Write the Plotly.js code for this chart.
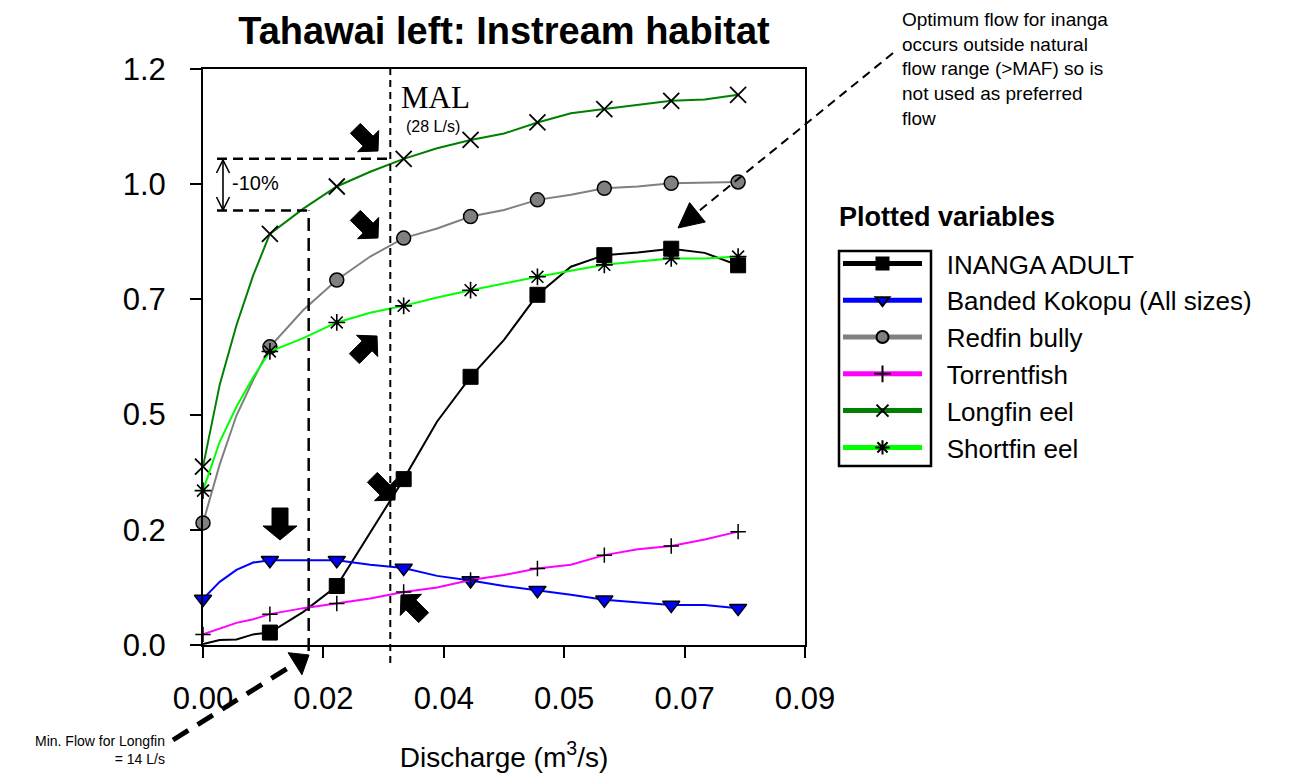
<!DOCTYPE html>
<html><head><meta charset="utf-8">
<script src="https://cdn.plot.ly/plotly-3.0.1.min.js"></script>
<style>html,body{margin:0;padding:0;background:#fff;} #chart{width:1290px;height:780px;}</style>
</head><body><div id="chart"></div>
<script>
// ---- data ----
const flow = [0, 0.0025, 0.005, 0.0075, 0.01, 0.015, 0.02, 0.025, 0.03, 0.035, 0.04, 0.045, 0.05, 0.055, 0.06, 0.065, 0.07, 0.075, 0.08];
const inangaAdult  = [0.002, 0.011, 0.012, 0.023, 0.027, 0.072, 0.128, 0.243, 0.360, 0.485, 0.582, 0.662, 0.760, 0.821, 0.846, 0.852, 0.860, 0.851, 0.824];
const bandedKokopu = [0.100, 0.137, 0.163, 0.179, 0.184, 0.184, 0.184, 0.174, 0.167, 0.150, 0.140, 0.128, 0.119, 0.109, 0.098, 0.092, 0.087, 0.087, 0.080];
const redfinBully  = [0.265, 0.392, 0.498, 0.575, 0.647, 0.727, 0.792, 0.843, 0.883, 0.904, 0.930, 0.944, 0.966, 0.977, 0.991, 0.995, 1.002, 1.003, 1.005];
const torrentfish  = [0.023, 0.035, 0.048, 0.056, 0.067, 0.080, 0.090, 0.101, 0.115, 0.125, 0.141, 0.152, 0.166, 0.174, 0.195, 0.208, 0.215, 0.229, 0.246];
const longfinEel   = [0.387, 0.565, 0.694, 0.802, 0.892, 0.947, 0.995, 1.027, 1.055, 1.078, 1.096, 1.110, 1.134, 1.154, 1.163, 1.172, 1.181, 1.184, 1.194];
const shortfinEel  = [0.335, 0.441, 0.517, 0.581, 0.637, 0.666, 0.700, 0.721, 0.736, 0.754, 0.770, 0.785, 0.799, 0.812, 0.825, 0.832, 0.839, 0.839, 0.843];
const markerFlows       = [0, 0.01, 0.02, 0.03, 0.04, 0.05, 0.06, 0.07, 0.08];
const inangaMarkerFlows = [0.01, 0.02, 0.03, 0.04, 0.05, 0.06, 0.07, 0.08];
const seriesNames = ['INANGA ADULT', 'Banded Kokopu (All sizes)', 'Redfin bully', 'Torrentfish', 'Longfin eel', 'Shortfin eel'];
const xTickVals = [0, 0.018, 0.036, 0.054, 0.072, 0.09];
const xTickText = ['0.00', '0.02', '0.04', '0.05', '0.07', '0.09'];
const yTickVals = [0, 0.25, 0.5, 0.75, 1.0, 1.25];
const yTickText = ['0.0', '0.2', '0.5', '0.7', '1.0', '1.2'];
const malFlow = 0.028;          // MAL line
const minFlowLine = 0.0158;     // min flow for longfin (drawn)
const longfinAtMal = 1.055;
const longfinMinus10 = 0.943;

// ---- helpers ----
const FONT = 'Liberation Sans, Arial, Helvetica, sans-serif';
const PX = v => (v - 203) / 602;      // pixel -> paper x
const PY = v => (645 - v) / 576;      // pixel -> paper y
const XR = 0.09;                      // x range max
const PAD = '\u00a0\u00a0\u2009';     // gap between legend key box and names

function mk(name, y, color, symbol, size, fill, lw, mFlows) {
  const on = flow.map(f => mFlows.includes(f));
  return {
    type: 'scatter', mode: 'lines+markers', name: PAD + name, x: flow, y: y,
    cliponaxis: false,
    line: {color: color, width: 2},
    marker: {symbol: symbol, color: fill, opacity: 1, size: on.map(v => v ? size : 0),
             line: {color: '#000', width: on.map(v => v ? lw : 0)}}
  };
}
const traces = [
  mk(seriesNames[0], inangaAdult, '#000000', 'square', 15, '#000000', 1, inangaMarkerFlows),
  mk(seriesNames[1], bandedKokopu, '#0000FF', 'triangle-down', 15, '#0000FF', 1.5, markerFlows),
  mk(seriesNames[2], redfinBully, '#808080', 'circle', 14, '#808080', 1.5, markerFlows),
  mk(seriesNames[3], torrentfish, '#FF00FF', 'cross-thin', 11, '#000000', 1.5, markerFlows),
  mk(seriesNames[4], longfinEel, '#008000', 'x-thin', 16, '#000000', 1.8, markerFlows),
  mk(seriesNames[5], shortfinEel, '#00FF00', 'asterisk', 14, '#000000', 1.6, markerFlows)
];

function rot(pts, deg) {
  const t = deg * Math.PI / 180, c = Math.cos(t), s = Math.sin(t);
  return pts.map(p => [p[0] * c - p[1] * s, p[0] * s + p[1] * c]);
}
function pathFrom(pts, close) { return 'M' + pts.map(p => p[0].toFixed(1) + ',' + p[1].toFixed(1)).join('L') + (close ? 'Z' : ''); }
function pixShape(tx, ty, pts, filled) {
  return {type: 'path', xref: 'paper', yref: 'paper', xsizemode: 'pixel', ysizemode: 'pixel',
          xanchor: PX(tx), yanchor: PY(ty), path: pathFrom(pts, filled),
          fillcolor: filled ? '#000' : 'rgba(0,0,0,0)', line: {color: '#000', width: filled ? 1 : 1.6}};
}
function blockArrow(tx, ty, deg, L, W, w, h) {
  return pixShape(tx, ty, rot([[0,0],[-h,W/2],[-h,w/2],[-L,w/2],[-L,-w/2],[-h,-w/2],[-h,-W/2]], deg), true);
}
function triHead(tx, ty, deg, len, wid) {
  return pixShape(tx, ty, rot([[0,0],[-len,wid/2],[-len,-wid/2]], deg), true);
}
function openHead(tx, ty, deg, len, wid) {
  return pixShape(tx, ty, rot([[-len,wid/2],[0,0],[-len,-wid/2]], deg), false);
}
function pline(x0, y0, x1, y1, width, dash) {
  return {type: 'line', xref: 'paper', yref: 'paper', x0: PX(x0), y0: PY(y0), x1: PX(x1), y1: PY(y1),
          line: {color: '#000', width: width, dash: dash}};
}

const shapes = [
  // MAL vertical line
  {type: 'line', xref: 'paper', yref: 'paper', x0: malFlow / XR, x1: malFlow / XR, y0: PY(663), y1: 1,
   line: {color: '#000', width: 2, dash: '7px,5px'}},
  // longfin at MAL and -10% horizontal lines
  {type: 'line', xref: 'paper', yref: 'y', x0: PX(217), x1: malFlow / XR, y0: longfinAtMal, y1: longfinAtMal,
   line: {color: '#000', width: 2.5, dash: '10px,6px'}},
  {type: 'line', xref: 'paper', yref: 'y', x0: PX(217), x1: minFlowLine / XR, y0: longfinMinus10, y1: longfinMinus10,
   line: {color: '#000', width: 2.5, dash: '10px,6px'}},
  // min flow vertical
  {type: 'line', xref: 'paper', yref: 'paper', x0: minFlowLine / XR, x1: minFlowLine / XR, y0: PY(651), y1: longfinMinus10 / 1.25,
   line: {color: '#000', width: 2.5, dash: '13px,7px'}},
  // -10% double-headed arrow
  pline(223, 160, 223, 210, 1.6, 'solid'),
  openHead(223, 160, 90, 13, 13),
  openHead(223, 210, -90, 13, 13),
  // min flow callout
  pline(173, 740, 295, 663.7, 5, '18px,11px'),
  triHead(309, 655, 32, 16.5, 26),
  // inanga callout
  pline(893, 53, 697.4, 212.2, 2, '9px,6px'),
  triHead(678, 228, 219, 25, 25),
  // block arrows
  blockArrow(378, 151, -45, 32, 30, 14, 14),
  blockArrow(378, 238, -45, 32, 30, 14, 14),
  blockArrow(377, 336, 45, 32, 30, 14, 14),
  blockArrow(395, 500, -45, 32, 30, 14, 14),
  blockArrow(280, 540, -90, 32, 34, 16, 14),
  blockArrow(401, 595, 135, 32, 30, 14, 14),
  // legend key box
  {type: 'rect', xref: 'paper', yref: 'paper', x0: PX(839), x1: PX(931), y0: PY(466), y1: PY(251),
   line: {color: '#000', width: 2.5}, fillcolor: 'rgba(0,0,0,0)'}
];

const annotations = [
  {xref: 'paper', yref: 'paper', x: PX(399), y: PY(97), xanchor: 'left', yanchor: 'middle', showarrow: false,
   text: 'MAL', font: {family: 'Liberation Serif, Times New Roman, serif', size: 31, color: '#000'}},
  {xref: 'paper', yref: 'paper', x: PX(404), y: PY(127), xanchor: 'left', yanchor: 'middle', showarrow: false,
   text: '(28 L/s)', font: {family: FONT, size: 16, color: '#000'}},
  {xref: 'paper', yref: 'paper', x: PX(230), y: PY(183), xanchor: 'left', yanchor: 'middle', showarrow: false,
   text: '-10%', font: {family: FONT, size: 20, color: '#000'}},
  {xref: 'paper', yref: 'paper', x: PX(900), y: PY(7), xanchor: 'left', yanchor: 'top', align: 'left', showarrow: false,
   text: 'Optimum flow for inanga<br>occurs outside natural<br>flow range (>MAF) so is<br>not used as preferred<br>flow',
   font: {family: FONT, size: 19, color: '#000'}},
  {xref: 'paper', yref: 'paper', x: PX(837), y: PY(217), xanchor: 'left', yanchor: 'middle', showarrow: false,
   text: '<b>Plotted variables</b>', font: {family: FONT, size: 27, color: '#000'}},
  {xref: 'paper', yref: 'paper', x: PX(167), y: PY(750), xanchor: 'right', yanchor: 'middle', align: 'right', showarrow: false,
   text: 'Min. Flow for Longfin<br>= 14 L/s', font: {family: FONT, size: 14, color: '#000'}}
];

const axisCommon = {
  showline: true, linecolor: '#000', linewidth: 2, mirror: true,
  ticks: 'outside', ticklen: 11, tickwidth: 2, tickcolor: '#000',
  showgrid: false, zeroline: false, tickmode: 'array',
  tickfont: {family: FONT, size: 31, color: '#000'}
};

const layout = {
  width: 1290, height: 780,
  margin: {l: 203, r: 485, t: 69, b: 135},
  paper_bgcolor: '#fff', plot_bgcolor: '#fff',
  font: {family: FONT, color: '#000'},
  title: {text: 'Tahawai left: Instream habitat', xref: 'paper', x: 0.5, xanchor: 'center',
          yref: 'container', y: 1 - 31 / 780, yanchor: 'middle',
          font: {family: FONT, size: 38, weight: 'bold', color: '#000'}},
  xaxis: Object.assign({}, axisCommon, {range: [0, XR], tickvals: xTickVals, ticktext: xTickText,
          ticklabelstandoff: 14,
          title: {text: 'Discharge (m<sup>3</sup>/s)', font: {family: FONT, size: 28, color: '#000'}, standoff: 32}}),
  yaxis: Object.assign({}, axisCommon, {range: [0, 1.25], tickvals: yTickVals, ticktext: yTickText,
          ticklabelstandoff: 18}),
  showlegend: true,
  legend: {x: PX(838), y: PY(240), xanchor: 'left', yanchor: 'top', itemwidth: 79, itemsizing: 'constant',
           bgcolor: 'rgba(0,0,0,0)', borderwidth: 0, tracegroupgap: 0,
           font: {family: FONT, size: 26, color: '#000'}},
  shapes: shapes,
  annotations: annotations
};

Plotly.newPlot('chart', traces, layout, {displayModeBar: false, staticPlot: true});
</script></body></html>
